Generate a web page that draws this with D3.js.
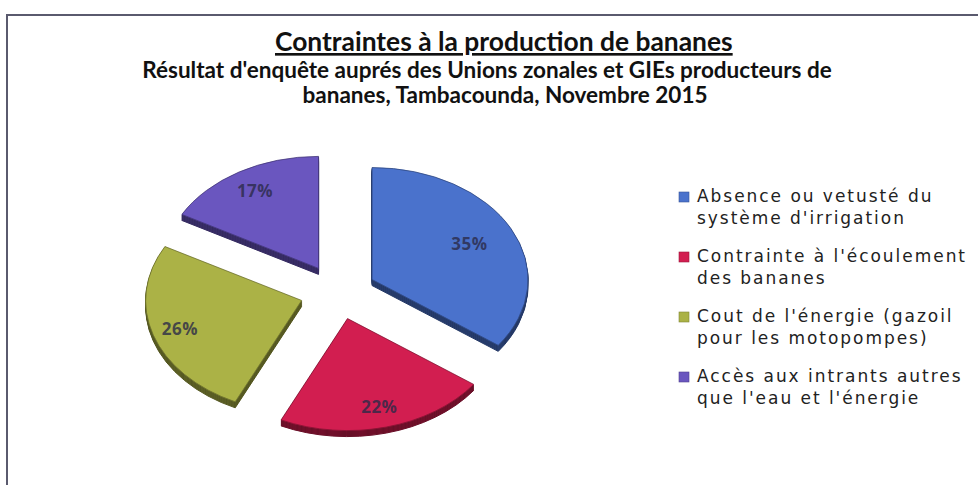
<!DOCTYPE html>
<html><head><meta charset="utf-8">
<script src="https://cdn.jsdelivr.net/npm/d3@7"></script>
<style>body{margin:0;background:#fff;}svg{display:block;}</style>
</head><body>
<svg id="chart" width="978" height="485"></svg>
<script>
const categories = [
  ["Absence ou vetusté du", "système d'irrigation"],
  ["Contrainte à l'écoulement", "des bananes"],
  ["Cout de l'énergie (gazoil", "pour les motopompes)"],
  ["Accès aux intrants autres", "que l'eau et l'énergie"]
];
const values = [35, 22, 26, 17];
const colors = ["#4a72cc", "#d21e50", "#abb246", "#6a56bf"];
const title = "Contraintes à la production de bananes";
const subtitle = ["Résultat d'enquête auprés des Unions zonales et GIEs producteurs de",
                  "bananes, Tambacounda, Novembre 2015"];

const svg = d3.select("#chart");

// frame
svg.append("path").attr("d", "M7,485 L7,15 L978,15")
  .attr("fill", "none").attr("stroke", "#5a5a6e").attr("stroke-width", 2);

function fit(sel, target) {
  const fs = parseFloat(sel.attr("font-size"));
  const len = sel.node().getComputedTextLength();
  sel.attr("font-size", fs * target / len);
}

// titles
const t = svg.append("text").text(title).attr("x", 275).attr("y", 51)
  .attr("font-family", "Lato, 'Open Sans', sans-serif").attr("font-weight", "bold")
  .attr("font-size", 20).attr("fill", "#111").attr("text-decoration", "underline");
fit(t, 458);
const s1 = svg.append("text").text(subtitle[0]).attr("x", 487).attr("y", 78)
  .attr("text-anchor", "middle")
  .attr("font-family", "Lato, 'Open Sans', sans-serif").attr("font-weight", "bold")
  .attr("font-size", 17).attr("fill", "#111");
fit(s1, 690);
svg.append("text").text(subtitle[1]).attr("x", 505).attr("y", 103)
  .attr("text-anchor", "middle")
  .attr("font-family", "Lato, 'Open Sans', sans-serif").attr("font-weight", "bold")
  .attr("font-size", parseFloat(s1.attr("font-size"))).attr("fill", "#111");

// pie
const cx = 338, cy = 292, rx = 156, ry = 112, explode = 0.245, depth = 6;
const pie = d3.pie().sort(null).value(d => d).startAngle(0).endAngle(2 * Math.PI);
const arcs = pie(values);
const arc = d3.arc().innerRadius(0).outerRadius(rx);

function offset(d) {
  const m = (d.startAngle + d.endAngle) / 2;
  return [cx + explode * rx * Math.sin(m), cy - explode * ry * Math.cos(m)];
}
const pg = svg.append("g");
// sides
arcs.forEach((d, i) => {
  const [ox, oy] = offset(d);
  const dark = d3.color(colors[i]).darker(1.1);
  for (let k = depth; k >= 1; k--) {
    pg.append("path")
      .attr("transform", `translate(${ox},${oy + k}) scale(1,${ry / rx})`)
      .attr("d", arc(d)).attr("fill", dark)
      .attr("stroke", d3.color(colors[i]).darker(2)).attr("stroke-width", 1)
      .attr("vector-effect", "non-scaling-stroke");
  }
});
// tops
arcs.forEach((d, i) => {
  const [ox, oy] = offset(d);
  pg.append("path")
    .attr("transform", `translate(${ox},${oy}) scale(1,${ry / rx})`)
    .attr("d", arc(d)).attr("fill", colors[i])
    .attr("stroke", d3.color(colors[i]).darker(1.3)).attr("stroke-width", 0.8)
    .attr("vector-effect", "non-scaling-stroke");
});
// labels
const lr = [0.70, 0.82, 0.82, 0.80];
arcs.forEach((d, i) => {
  const [ox, oy] = offset(d);
  const m = (d.startAngle + d.endAngle) / 2;
  pg.append("text")
    .attr("x", ox + lr[i] * rx * Math.sin(m))
    .attr("y", oy - lr[i] * ry * Math.cos(m))
    .attr("dy", "0.35em").attr("text-anchor", "middle")
    .attr("font-family", "'Open Sans', sans-serif").attr("font-weight", "bold")
    .attr("font-size", 17).attr("fill", "#2a2a48").attr("fill-opacity", 0.8)
    .attr("letter-spacing", 0.5)
    .text(d3.format(".0f")(d.data) + "%");
});

// legend
const lg = svg.append("g");
const baselines = [202, 262, 322, 382];
const legendSize = 17;
const probe = lg.append("text").text(categories[1][0]).attr("font-family", "'DejaVu Sans', sans-serif")
  .attr("font-size", legendSize);
const spacing = Math.max(0, (270 - probe.node().getComputedTextLength()) / categories[1][0].length);
probe.remove();
categories.forEach((c, i) => {
  lg.append("rect").attr("x", 679).attr("y", baselines[i] - 10).attr("width", 10).attr("height", 10)
    .attr("fill", colors[i]).attr("stroke", d3.color(colors[i]).darker(0.8)).attr("stroke-width", 0.6);
  c.forEach((line, j) => {
    lg.append("text").attr("x", 697).attr("y", baselines[i] + j * 22)
      .attr("font-family", "'DejaVu Sans', sans-serif").attr("font-size", legendSize)
      .attr("letter-spacing", spacing)
      .attr("fill", "#222").text(line);
  });
});
</script>
</body></html>
